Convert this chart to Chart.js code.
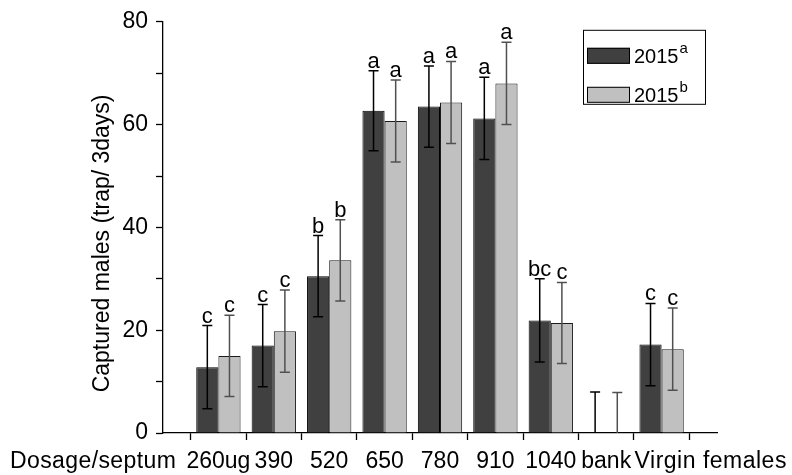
<!DOCTYPE html>
<html><head><meta charset="utf-8">
<script src="https://cdn.jsdelivr.net/npm/chart.js@4"></script>
<style>html,body{margin:0;padding:0;background:#fff}</style>
</head><body>
<canvas id="c" width="792" height="475"></canvas>
<script>
const categories = ['260ug','390','520','650','780','910','1040','bank','Virgin females'];
const xTitle = 'Dosage/septum';
const yTitle = 'Captured males (trap/ 3days)';
const series2015a = [12.8, 17.0, 30.5, 62.7, 63.5, 61.2, 21.9, 0, 17.2];
const series2015b = [15.0, 19.8, 33.6, 60.7, 64.3, 68.0, 21.4, 0, 16.3];
const err2015a = [8.1, 8.0, 7.9, 7.8, 7.9, 8.0, 8.1, 8.0, 8.0];
const err2015b = [7.9, 8.0, 7.9, 8.0, 8.0, 8.0, 7.9, 7.9, 8.0];
const letters2015a = ['c','c','b','a','a','a','bc','','c'];
const letters2015b = ['c','c','b','a','a','a','c','','c'];
const legendLabels = [['2015','a'],['2015','b']];
const yMin = 0, yMax = 80, yStep = 10, yLabelStep = 20;

const FONT = "'Liberation Sans', Arial, sans-serif";
const xLabels = ['', ...categories, ''];
const pad = arr => [null, ...arr, null];
const errs = [err2015a, err2015b];
const letters = [letters2015a, letters2015b];
const fills = ['#404040', '#c0c0c0'];
const errColors = ['#000000', '#505050'];

const overlay = {
  id: 'overlay',
  afterDatasetsDraw(chart) {
    const ctx = chart.ctx;
    const y = chart.scales.y;
    const ca = chart.chartArea;
    ctx.save();
    chart.data.datasets.forEach((ds, di) => {
      const meta = chart.getDatasetMeta(di);
      ds.data.forEach((v, i) => {
        if (v === null) return;
        const bar = meta.data[i];
        const e = errs[di][i - 1];
        const px = bar.x;
        const yt = y.getPixelForValue(v + e);
        const lo = v - e;
        const yb = y.getPixelForValue(Math.max(0, lo));
        ctx.strokeStyle = errColors[di];
        ctx.lineWidth = 1.5;
        ctx.beginPath();
        ctx.moveTo(px, yt); ctx.lineTo(px, yb);
        ctx.moveTo(px - 5, yt); ctx.lineTo(px + 5, yt);
        if (lo > 0) { ctx.moveTo(px - 5, yb); ctx.lineTo(px + 5, yb); }
        ctx.stroke();
        const L = letters[di][i - 1];
        if (L) {
          ctx.fillStyle = '#000';
          ctx.font = '22px ' + FONT;
          ctx.textAlign = 'center';
          ctx.textBaseline = 'alphabetic';
          ctx.fillText(L, px, yt - 3);
        }
      });
    });
    // legend
    const bx = ca.right - 134, by = ca.top + 8, bw = 122, bh = 74;
    ctx.strokeStyle = '#000'; ctx.lineWidth = 1;
    ctx.strokeRect(bx + 0.5, by + 0.5, bw, bh);
    legendLabels.forEach((lab, k) => {
      const sy = by + 18 + k * 39;
      ctx.fillStyle = fills[k];
      ctx.fillRect(bx + 4, sy, 43, 16);
      ctx.strokeStyle = '#000';
      ctx.strokeRect(bx + 4.5, sy + 0.5, 42, 15);
      ctx.fillStyle = '#000';
      ctx.textAlign = 'left'; ctx.textBaseline = 'alphabetic';
      ctx.font = '20px ' + FONT;
      ctx.fillText(lab[0], bx + 51, sy + 15);
      const w = ctx.measureText(lab[0]).width;
      ctx.font = '15px ' + FONT;
      ctx.fillText(lab[1], bx + 52 + w, sy + 5);
    });
    ctx.restore();
  },
  afterDraw(chart) {
    const ctx = chart.ctx;
    const x = chart.scales.x;
    const ca = chart.chartArea;
    ctx.save();
    ctx.fillStyle = '#000';
    ctx.font = '23px ' + FONT;
    ctx.textBaseline = 'alphabetic';
    ctx.textAlign = 'left';
    ctx.letterSpacing = '0.4px';
    ctx.fillText(xTitle, x.getPixelForValue(0) - 153, ca.bottom + 35);
    ctx.letterSpacing = '0.5px';
    ctx.fillText(categories[categories.length - 1], x.getPixelForValue(9) - 27, ca.bottom + 35);
    ctx.letterSpacing = '0px';
    ctx.translate(103, (ca.top + ca.bottom) / 2 + 16);
    ctx.rotate(-Math.PI / 2);
    ctx.textAlign = 'center';
    ctx.textBaseline = 'middle';
    ctx.fillText(yTitle, 0, 0);
    ctx.restore();
  }
};

new Chart(document.getElementById('c'), {
  type: 'bar',
  data: {
    labels: xLabels,
    datasets: [
      { label: '2015a', data: pad(series2015a), backgroundColor: fills[0], borderColor: '#000', borderWidth: 1, borderSkipped: 'bottom', categoryPercentage: 0.8, barPercentage: 1.0 },
      { label: '2015b', data: pad(series2015b), backgroundColor: fills[1], borderColor: '#1a1a1a', borderWidth: 1, borderSkipped: 'bottom', categoryPercentage: 0.8, barPercentage: 1.0 }
    ]
  },
  options: {
    responsive: false,
    animation: false,
    layout: { padding: { left: 0, right: 75, top: 20, bottom: 0 } },
    plugins: { legend: { display: false }, tooltip: { enabled: false } },
    scales: {
      x: {
        offset: false,
        grid: { display: true, drawOnChartArea: false, drawTicks: true, tickLength: 7, tickColor: '#000', tickWidth: 1.3, color: '#000' },
        border: { display: true, color: '#000', width: 1.3 },
        ticks: {
          autoSkip: false, maxRotation: 0, minRotation: 0, color: '#000', padding: 8,
          font: { family: FONT, size: 23 },
          callback: function (v, i) { return (i >= 1 && i <= 8) ? this.getLabelForValue(v) : ''; }
        },
        afterFit: s => { s.height = 42; }
      },
      y: {
        min: yMin, max: yMax,
        grid: { display: true, drawOnChartArea: false, drawTicks: true, tickLength: 7, tickColor: '#000', tickWidth: 1.3 },
        border: { display: true, color: '#000', width: 1.3 },
        ticks: {
          stepSize: yStep, color: '#000', padding: 8,
          font: { family: FONT, size: 23 },
          callback: v => (v % yLabelStep === 0 ? String(v) : '')
        },
        afterFit: s => { s.width = 163; }
      }
    }
  },
  plugins: [overlay]
});
</script>
</body></html>
